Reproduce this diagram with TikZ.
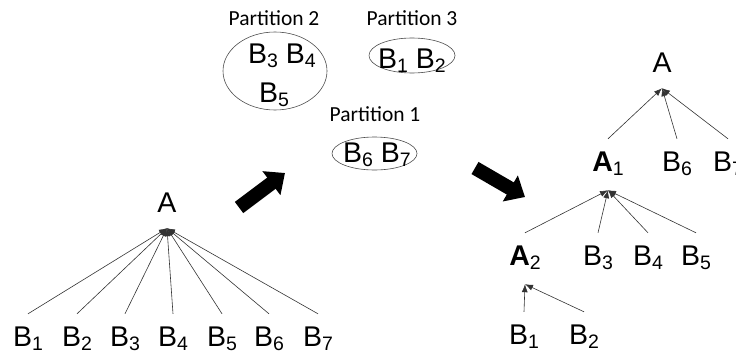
\documentclass[tikz,border=0pt]{standalone}
\usepackage{fontspec}
\setmainfont{Liberation Sans}
\newfontfamily\partfont{Carlito}
\usetikzlibrary{arrows.meta}
\newcommand{\idx}[1]{\raisebox{-0.17em}{\fontsize{19.5}{19.5}\selectfont #1}}

\begin{document}
\begin{tikzpicture}[x=1pt, y=-1pt,
        lbl/.style={font=\fontsize{28.5}{28.5}\selectfont, anchor=base, inner xsep=0pt, inner ysep=12pt, text height=20pt, text depth=7pt},
        root/.style={lbl, text depth=4pt},
        txt/.style={font=\fontsize{28.5}{28.5}\selectfont, anchor=base, inner sep=0pt},
        edge/.style={draw=black!80, line width=0.6pt, -{Latex[length=8pt,width=6pt]}},
        part/.style={draw=black!70, line width=0.6pt},
        ptitle/.style={font=\partfont\fontsize{21.5}{21.5}\selectfont, anchor=base, inner sep=0pt},
        bigarrow/.style={line width=14pt, -{Triangle[length=17pt,width=29pt]}}]
    \useasboundingbox (0,0) rectangle (736,356);

    % flat tree
    \node[root] (a) at (167,212) {A};
    \foreach \i/\x in {1/28, 2/77, 3/125, 4/173, 5/222, 6/269, 7/318} {
        \node[lbl] (b\i) at (\x,346) {B\idx{\i}};
        \draw[edge] (b\i.north) -- (a.south);
    }

    % partitions
    \node[ptitle] (t2) at (274,25) {Partition 2};
    \node[ptitle] (t3) at (412,25) {Partition 3};
    \node[ptitle] (t1) at (375,121) {Partition 1};
    \draw[part] (275,71) ellipse [x radius=52, y radius=39];
    \draw[part] (412,55.5) ellipse [x radius=43, y radius=17.5];
    \draw[part] (374.5,153.5) ellipse [x radius=42.5, y radius=16.5];
    \node[txt] (p2a) at (282,63) {B\idx{3} B\idx{4}};
    \node[txt] (p2b) at (274,102) {B\idx{5}};
    \node[txt] (p3) at (412,68) {B\idx{1} B\idx{2}};
    \node[txt] (p1) at (377,162) {B\idx{6} B\idx{7}};

    % block arrows
    \coordinate (s1) at (239,207.5);
    \coordinate (e1) at (285,173);
    \coordinate (s2) at (475,168);
    \coordinate (e2) at (525,197);
    \draw[bigarrow] (s1) -- (e1);
    \draw[bigarrow] (s2) -- (e2);

    % nested tree
    \node[root] (r) at (662,72) {A};
    \node[lbl] (a1) at (608,171) {\textbf{A}\idx{1}};
    \node[lbl] (r6) at (677,171) {B\idx{6}};
    \node[lbl] (r7) at (728,171) {B\idx{7}};
    \node[lbl] (a2) at (525,265) {\textbf{A}\idx{2}};
    \node[lbl] (r3) at (598,265) {B\idx{3}};
    \node[lbl] (r4) at (648,265) {B\idx{4}};
    \node[lbl] (r5) at (696,265) {B\idx{5}};
    \node[lbl] (r1) at (524,344) {B\idx{1}};
    \node[lbl] (r2) at (584,344) {B\idx{2}};
    \foreach \c in {a1, r6, r7} \draw[edge] (\c.north) -- (r.south);
    \foreach \c in {a2, r3, r4, r5} \draw[edge] (\c.north) -- (a1.south);
    \foreach \c in {r1, r2} \draw[edge] (\c.north) -- (a2.south);

\end{tikzpicture}
\end{document}
